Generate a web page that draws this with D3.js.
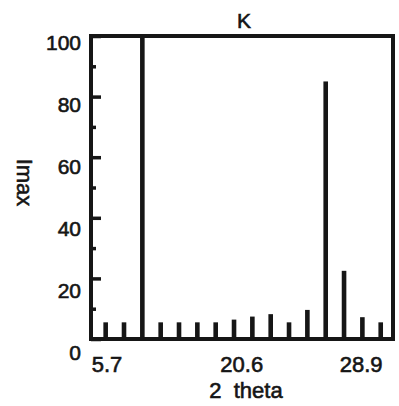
<!DOCTYPE html>
<html>
<head>
<meta charset="utf-8">
<script src="https://cdn.jsdelivr.net/npm/d3@7"></script>
<style>
  body { margin: 0; background: #fff; }
  text { font-family: "Liberation Sans", Arial, sans-serif; fill: #151515; stroke: #151515; stroke-width: 0.6px; }
</style>
</head>
<body>
<div id="chart"></div>
<script>
// peaks in order along 2 theta, relative intensity
const peaks = [1, 2, 3, 4, 5, 6, 7, 8, 9, 10, 11, 12, 13, 14, 15, 16];
const imax = [5.5, 5.5, 100, 5.5, 5.5, 5.5, 5.5, 6.4, 7.4, 8.2, 5.5, 9.6, 85, 22.5, 7.2, 5.5];
// tick labels and where they sit, in peak number units
const xTickLabels = ["5.7", "20.6", "28.9"];
const xTickAt = [1.07, 8.42, 14.93];
const yTicks = [0, 20, 40, 60, 80, 100];

const W = 399, H = 406;
const mLeft = 91, mRight = 393, mTop = 36, mBottom = 339;

const svg = d3.select("#chart").append("svg")
  .attr("width", W)
  .attr("height", H);

const x = d3.scaleLinear().domain([0.2, 16.67]).range([mLeft, mRight]);
const y = d3.scaleLinear().domain([0, 100]).range([mBottom, mTop]);
// labels in the scan drift a bit from their ticks
const yLab = d3.scaleLinear().domain([0, 100]).range([mBottom + 13, mTop + 6]);

// bars
svg.selectAll("rect.bar")
  .data(peaks)
  .enter()
  .append("rect")
  .attr("class", "bar")
  .attr("x", (d) => x(d) - 2.3)
  .attr("width", 4.6)
  .attr("y", (d, i) => y(imax[i]))
  .attr("height", (d, i) => y(0) - y(imax[i]))
  .attr("fill", "#161616");

// y ticks inside the box
const yAxis = d3.axisLeft(y)
  .tickValues(d3.range(0, 101, 10))
  .tickSize(0)
  .tickFormat("");
svg.append("g")
  .attr("transform", `translate(${mLeft},0)`)
  .call(yAxis)
  .call((g) => g.select(".domain").remove())
  .call((g) => g.selectAll(".tick line")
    .attr("x2", (d) => (d % 20 === 0 ? 10 : 5))
    .attr("stroke", "#161616")
    .attr("stroke-width", 3.5));

svg.selectAll("text.ylab")
  .data(yTicks)
  .enter()
  .append("text")
  .attr("class", "ylab")
  .attr("x", 81)
  .attr("y", (d) => yLab(d))
  .attr("dy", "0.36em")
  .attr("text-anchor", "end")
  .style("font-size", "21px")
  .text((d) => d);

// frame
svg.append("rect")
  .attr("x", mLeft)
  .attr("y", mTop)
  .attr("width", mRight - mLeft)
  .attr("height", mBottom - mTop)
  .attr("fill", "none")
  .attr("stroke", "#161616")
  .attr("stroke-width", 4);

svg.selectAll("text.xlab")
  .data(xTickLabels)
  .enter()
  .append("text")
  .attr("class", "xlab")
  .attr("x", (d, i) => x(xTickAt[i]))
  .attr("y", 372)
  .attr("text-anchor", "middle")
  .style("font-size", "22px")
  .text((d) => d);

svg.append("text")
  .attr("x", 246)
  .attr("y", 398)
  .attr("text-anchor", "middle")
  .style("font-size", "22px")
  .style("white-space", "pre")
  .text("2  theta");

svg.append("text")
  .attr("transform", `translate(17,${(mTop + mBottom) / 2 - 5}) rotate(90)`)
  .attr("text-anchor", "middle")
  .style("font-size", "22px")
  .text("Imax");

svg.append("text")
  .attr("x", 244)
  .attr("y", 28)
  .attr("text-anchor", "middle")
  .style("font-size", "21px")
  .text("K");
</script>
</body>
</html>
